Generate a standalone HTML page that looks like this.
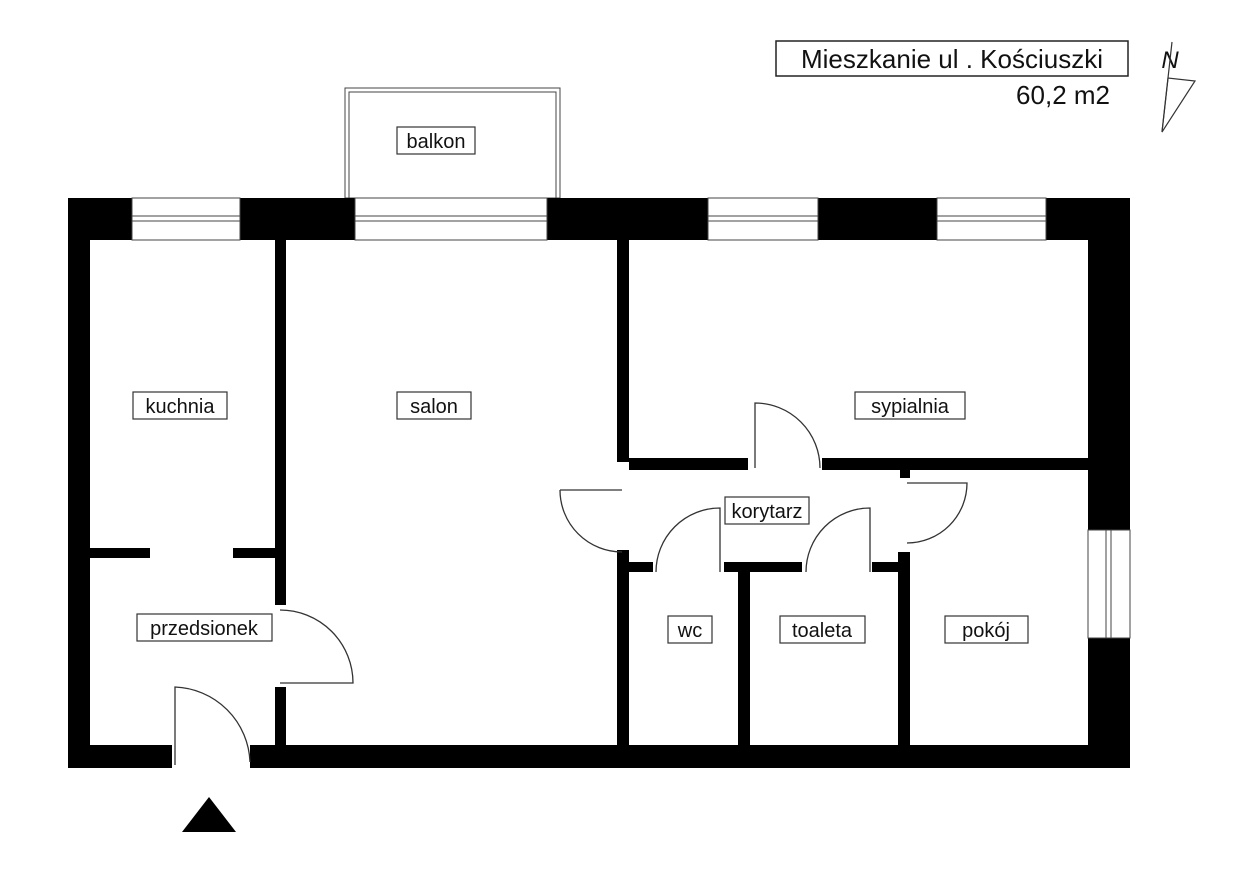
<!DOCTYPE html>
<html><head><meta charset="utf-8"><style>
html,body{margin:0;padding:0;background:#fff;}
svg{display:block;}
text{font-family:"Liberation Sans",sans-serif;fill:#111;}
</style></head><body>
<svg width="1245" height="878" viewBox="0 0 1245 878" xmlns="http://www.w3.org/2000/svg">
<!-- title -->
<rect x="776" y="41" width="352" height="35" fill="#fff" stroke="#222" stroke-width="1.5"/>
<text x="952" y="68" font-size="26" text-anchor="middle">Mieszkanie ul . Kościuszki</text>
<text x="1110" y="104" font-size="26" text-anchor="end">60,2 m2</text>
<!-- north -->
<text x="1170" y="68" font-size="24" font-style="italic" text-anchor="middle">N</text>
<line x1="1172" y1="42" x2="1162" y2="132" stroke="#333" stroke-width="1.2"/>
<polygon points="1162,132 1168,78 1195,81" fill="none" stroke="#333" stroke-width="1.2"/>
<!-- balcony -->
<rect x="345" y="88" width="215" height="110" fill="none" stroke="#444" stroke-width="1"/>
<rect x="349" y="92" width="207" height="106" fill="none" stroke="#444" stroke-width="1"/>
<rect x="397" y="127" width="78" height="27" fill="#fff" stroke="#333" stroke-width="1.2"/>
<text x="436" y="148" font-size="20" text-anchor="middle">balkon</text>
<g fill="#000">
<rect x="68" y="198" width="64" height="42"/>
<rect x="240" y="198" width="115" height="42"/>
<rect x="547" y="198" width="161" height="42"/>
<rect x="818" y="198" width="119" height="42"/>
<rect x="1046" y="198" width="84" height="42"/>
<rect x="68" y="198" width="22" height="570"/>
<rect x="1088" y="198" width="42" height="332"/>
<rect x="1088" y="638" width="42" height="130"/>
<rect x="68" y="745" width="104" height="23"/>
<rect x="250" y="745" width="880" height="23"/>
<rect x="275" y="240" width="11" height="365"/>
<rect x="275" y="687" width="11" height="60"/>
<rect x="90" y="548" width="60" height="10"/>
<rect x="233" y="548" width="45" height="10"/>
<rect x="617" y="240" width="12" height="222"/>
<rect x="617" y="550" width="12" height="197"/>
<rect x="629" y="458" width="119" height="12"/>
<rect x="822" y="458" width="266" height="12"/>
<rect x="900" y="470" width="10" height="8"/>
<rect x="629" y="562" width="24" height="10"/>
<rect x="724" y="562" width="78" height="10"/>
<rect x="872" y="562" width="28" height="10"/>
<rect x="738" y="572" width="12" height="175"/>
<rect x="898" y="552" width="12" height="195"/>
</g>
<g fill="none" stroke="#444" stroke-width="1">
<rect x="132" y="198" width="108" height="42"/>
<line x1="132" y1="216" x2="240" y2="216"/><line x1="132" y1="221" x2="240" y2="221"/>
<rect x="355" y="198" width="192" height="42"/>
<line x1="355" y1="216" x2="547" y2="216"/><line x1="355" y1="221" x2="547" y2="221"/>
<rect x="708" y="198" width="110" height="42"/>
<line x1="708" y1="216" x2="818" y2="216"/><line x1="708" y1="221" x2="818" y2="221"/>
<rect x="937" y="198" width="109" height="42"/>
<line x1="937" y1="216" x2="1046" y2="216"/><line x1="937" y1="221" x2="1046" y2="221"/>
<rect x="1088" y="530" width="42" height="108"/>
<line x1="1106" y1="530" x2="1106" y2="638"/><line x1="1111" y1="530" x2="1111" y2="638"/>
</g>
<g fill="none" stroke="#333" stroke-width="1.3">
<path d="M560,490 L622,490 M560,490 A62,62 0 0 0 622,552"/>
<path d="M755,468 L755,403 A65,65 0 0 1 820,468"/>
<path d="M720,572 L720,508 A64,64 0 0 0 656,572"/>
<path d="M870,572 L870,508 A64,64 0 0 0 806,572"/>
<path d="M907,483 L967,483 A60,60 0 0 1 907,543"/>
<path d="M280,683 L353,683 A73,73 0 0 0 280,610"/>
<path d="M175,765 L175,687 A78,78 0 0 1 250,762"/>
</g>
<polygon points="182,832 236,832 209,797" fill="#000"/>
<g stroke="#333" stroke-width="1.2" fill="#fff">
<rect x="133" y="392" width="94" height="27"/>
<rect x="397" y="392" width="74" height="27"/>
<rect x="855" y="392" width="110" height="27"/>
<rect x="725" y="497" width="84" height="27"/>
<rect x="137" y="614" width="135" height="27"/>
<rect x="668" y="616" width="44" height="27"/>
<rect x="780" y="616" width="85" height="27"/>
<rect x="945" y="616" width="83" height="27"/>
</g>
<g font-size="20" text-anchor="middle">
<text x="180" y="413">kuchnia</text>
<text x="434" y="413">salon</text>
<text x="910" y="413">sypialnia</text>
<text x="767" y="518">korytarz</text>
<text x="204" y="635">przedsionek</text>
<text x="690" y="637">wc</text>
<text x="822" y="637">toaleta</text>
<text x="986" y="637">pokój</text>
</g>
</svg>
</body></html>
